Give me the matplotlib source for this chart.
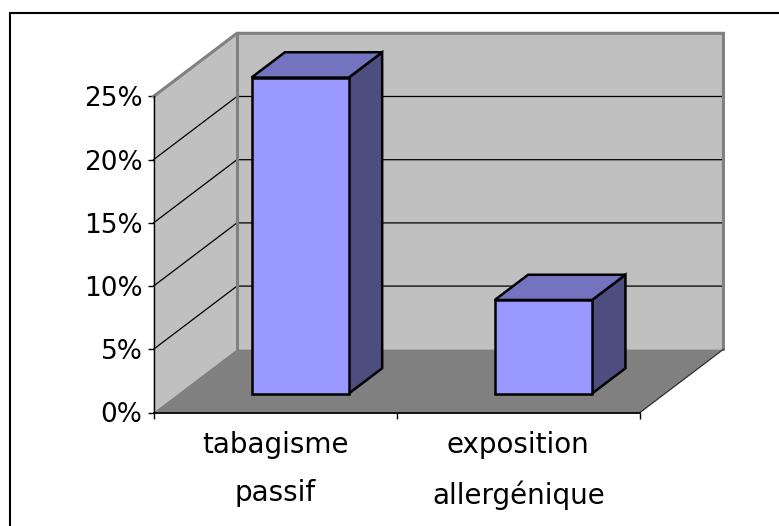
import matplotlib.pyplot as plt
import matplotlib.patches as patches
from matplotlib.patches import Polygon

# survey shares (%)
categories = ['tabagisme\npassif', 'exposition\nallergénique']
values = [25.0, 7.4]
y_ticks = [0, 5, 10, 15, 20, 25]

# oblique projection of the depth axis (in category / percent units)
DX = 0.343
DY = 5.0
bar_w = 0.4
z_front, z_back = 0.3, 0.7

face_col = '#9999FF'
top_col = '#7373BF'
side_col = '#4D4D80'
wall_col = '#C0C0C0'
floor_col = '#808080'
edge_gray = '#808080'

W, H = 779, 526
fig = plt.figure(figsize=(W / 100, H / 100), dpi=100)
ax = fig.add_axes([153.5 / W, (H - 412.5) / H, (640 - 153.5) / W, 316 / H])
ax.set_xlim(0, len(categories))
ax.set_ylim(0, y_ticks[-1])
ax.patch.set_alpha(0)


def proj(x, y, z):
    return (x + z * DX, y + z * DY)


ymax = y_ticks[-1]
n = len(categories)

# back wall, left wall, floor
back = Polygon([proj(0, 0, 1), proj(n, 0, 1), proj(n, ymax, 1), proj(0, ymax, 1)],
               closed=True, fc=wall_col, ec='none', clip_on=False, zorder=1)
left = Polygon([proj(0, 0, 0), proj(0, 0, 1), proj(0, ymax, 1), proj(0, ymax, 0)],
               closed=True, fc=wall_col, ec='none', clip_on=False, zorder=1)
floor = Polygon([proj(0, 0, 0), proj(n, 0, 0), proj(n, 0, 1), proj(0, 0, 1)],
                closed=True, fc=floor_col, ec='none', clip_on=False, zorder=1)
for p in (back, left, floor):
    ax.add_patch(p)

# gridlines on the walls
for t in y_ticks[1:-1]:
    x0, y0 = proj(0, t, 0)
    x1, y1 = proj(0, t, 1)
    x2, y2 = proj(n, t, 1)
    ax.plot([x0, x1, x2], [y0, y1, y2], color='black', lw=0.9, clip_on=False, zorder=2)

# wall edges
xs, ys = zip(proj(0, ymax, 0), proj(0, ymax, 1), proj(n, ymax, 1), proj(n, 0, 1))
ax.plot(xs, ys, color=edge_gray, lw=2.2, clip_on=False, zorder=2, solid_joinstyle='miter')
xs, ys = zip(proj(0, ymax, 1), proj(0, 0, 1))
ax.plot(xs, ys, color=edge_gray, lw=2.2, clip_on=False, zorder=2)
xs, ys = zip(proj(n, 0, 0), proj(n, 0, 1))
ax.plot(xs, ys, color='#303030', lw=0.9, clip_on=False, zorder=2)

# bars
for i, v in enumerate(values):
    xl = i + 0.5 - bar_w / 2
    xr = i + 0.5 + bar_w / 2
    side = [proj(xr, 0, z_front), proj(xr, 0, z_back), proj(xr, v, z_back), proj(xr, v, z_front)]
    top = [proj(xl, v, z_front), proj(xr, v, z_front), proj(xr, v, z_back), proj(xl, v, z_back)]
    front = [proj(xl, 0, z_front), proj(xr, 0, z_front), proj(xr, v, z_front), proj(xl, v, z_front)]
    for pts, c in ((side, side_col), (top, top_col), (front, face_col)):
        ax.add_patch(Polygon(pts, closed=True, fc=c, ec='black', lw=1.8,
                             joinstyle='miter', clip_on=False, zorder=3))

# axes
for s in ('top', 'right'):
    ax.spines[s].set_visible(False)
ax.spines['left'].set_linewidth(1.0)
ax.spines['bottom'].set_linewidth(1.3)
ax.spines['left'].set_zorder(4)
ax.spines['bottom'].set_zorder(4)

ax.set_yticks(y_ticks)
ax.set_yticklabels(['%d%%' % t for t in y_ticks])
ax.tick_params(axis='y', direction='out', length=4, width=1, pad=4, labelsize=19)

ax.set_xticks(range(n + 1))
ax.set_xticklabels([])
ax.tick_params(axis='x', which='major', direction='out', length=4.5, width=1)
ax.set_xticks([i + 0.5 for i in range(n)], minor=True)
ax.set_xticklabels(categories, minor=True, fontsize=20, linespacing=1.95)
ax.tick_params(axis='x', which='minor', length=0, pad=13)

# chart area border
fig.patches.append(patches.Rectangle((9.5 / W, -0.1), 1.1, (H - 12.5) / H + 0.1,
                                     transform=fig.transFigure, fill=False,
                                     ec='black', lw=1.5))

fig.savefig('out.png', dpi=100)
